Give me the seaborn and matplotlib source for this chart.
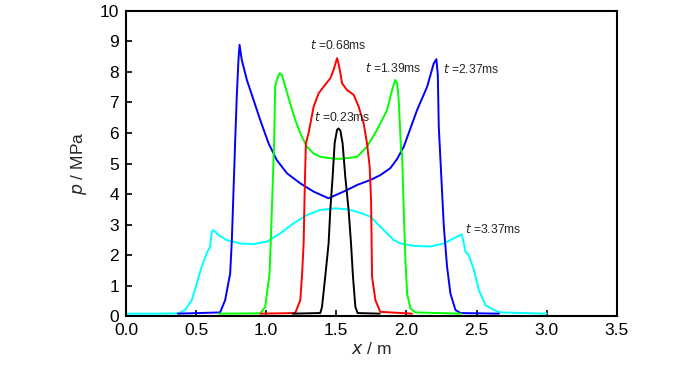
import matplotlib
matplotlib.use("Agg")
import matplotlib.pyplot as plt
import seaborn as sns
import pandas as pd
import numpy as np

# ---- data ----
cyan_x = [0.0, 0.243, 0.374, 0.421, 0.469, 0.505, 0.540, 0.576, 0.600, 0.612, 0.624, 0.659, 0.719, 0.814,
          0.910, 1.005, 1.100, 1.195, 1.290, 1.386, 1.493, 1.576, 1.648, 1.743, 1.838, 1.910, 1.960, 2.052,
          2.171, 2.267, 2.338, 2.393, 2.405, 2.421, 2.445, 2.482, 2.517, 2.564, 2.624, 2.671, 3.0]
cyan_y = [0.08, 0.08, 0.09, 0.20, 0.52, 1.07, 1.62, 2.06, 2.28, 2.77, 2.82, 2.66, 2.49, 2.38,
          2.36, 2.44, 2.71, 3.04, 3.31, 3.48, 3.53, 3.50, 3.42, 3.26, 2.82, 2.49, 2.38, 2.30,
          2.28, 2.38, 2.55, 2.68, 2.49, 2.11, 2.00, 1.51, 0.85, 0.36, 0.20, 0.12, 0.08]

blue_x = [0.37, 0.671, 0.707, 0.743, 0.755, 0.767, 0.779, 0.790, 0.802, 0.810, 0.826, 0.862, 0.910, 0.957,
          1.017, 1.076, 1.148, 1.243, 1.338, 1.445, 1.576, 1.650, 1.743, 1.814, 1.886, 1.934, 1.981, 2.005,
          2.076, 2.148, 2.195, 2.214, 2.224, 2.231, 2.243, 2.255, 2.267, 2.290, 2.314, 2.350, 2.386, 2.66]
blue_y = [0.08, 0.12, 0.52, 1.40, 2.49, 4.13, 5.77, 7.19, 8.39, 8.89, 8.39, 7.74, 7.08, 6.43,
          5.66, 5.11, 4.68, 4.35, 4.08, 3.86, 4.13, 4.30, 4.46, 4.62, 4.85, 5.15, 5.55, 5.85,
          6.75, 7.52, 8.28, 8.42, 7.90, 6.20, 5.11, 4.02, 2.93, 1.62, 0.74, 0.20, 0.10, 0.08]

green_x = [0.66, 0.957, 0.993, 1.024, 1.033, 1.045, 1.057, 1.064, 1.076, 1.095, 1.112, 1.136, 1.171, 1.207,
           1.243, 1.290, 1.338, 1.386, 1.460, 1.529, 1.648, 1.719, 1.790, 1.862, 1.898, 1.921, 1.934, 1.945,
           1.962, 1.969, 1.981, 1.993, 2.005, 2.029, 2.064, 2.39]
green_y = [0.08, 0.09, 0.30, 1.40, 2.49, 4.13, 5.77, 7.52, 7.74, 7.96, 7.90, 7.52, 6.97, 6.43,
           5.99, 5.55, 5.33, 5.22, 5.17, 5.15, 5.22, 5.55, 6.10, 6.75, 7.41, 7.74, 7.63, 7.08,
           5.44, 5.33, 3.48, 1.84, 0.74, 0.25, 0.12, 0.08]

red_x = [0.96, 1.207, 1.243, 1.255, 1.267, 1.274, 1.283, 1.302, 1.338, 1.374, 1.410, 1.457, 1.481, 1.505,
         1.516, 1.529, 1.541, 1.576, 1.624, 1.660, 1.695, 1.719, 1.738, 1.748, 1.755, 1.779, 1.814, 2.04]
red_y = [0.08, 0.10, 0.52, 1.29, 2.38, 4.02, 5.66, 5.99, 6.86, 7.30, 7.52, 7.79, 8.07, 8.45,
         8.28, 7.96, 7.63, 7.41, 7.25, 6.86, 6.32, 5.66, 4.90, 3.80, 1.29, 0.52, 0.14, 0.08]

black_x = [1.19, 1.386, 1.398, 1.421, 1.445, 1.457, 1.474, 1.488, 1.505, 1.516, 1.529, 1.545, 1.564, 1.588,
           1.605, 1.619, 1.636, 1.652, 1.81]
black_y = [0.08, 0.10, 0.30, 1.29, 2.38, 3.47, 4.57, 5.66, 6.10, 6.15, 6.08, 5.66, 4.57, 3.47,
           2.38, 1.29, 0.30, 0.10, 0.08]

series_names = ["t=3.37ms", "t=2.37ms", "t=1.39ms", "t=0.68ms", "t=0.23ms"]
series_colors = ["#00ffff", "#0000ff", "#00ff00", "#ff0000", "#000000"]

label_texts = ["0.23ms", "0.68ms", "1.39ms", "2.37ms", "3.37ms"]
label_x = [1.338, 1.314, 1.707, 2.262, 2.421]
label_y = [6.51, 8.86, 8.12, 8.09, 2.84]

x_ticks = [0.0, 0.5, 1.0, 1.5, 2.0, 2.5, 3.0, 3.5]
y_ticks = list(range(0, 11))

# ---- build table ----
frames = []
for name, xs, ys in zip(series_names,
                        [cyan_x, blue_x, green_x, red_x, black_x],
                        [cyan_y, blue_y, green_y, red_y, black_y]):
    frames.append(pd.DataFrame({"x": xs, "p": ys, "series": name, "order": range(len(xs))}))
df = pd.concat(frames, ignore_index=True)

sns.set_style("ticks")
plt.rcParams["font.family"] = ["Liberation Sans", "DejaVu Sans"]

fig = plt.figure(figsize=(7.0, 3.65), dpi=100)
ax = fig.add_axes([0.18, 0.134, 0.701, 0.836])

sns.lineplot(data=df, x="x", y="p", hue="series", hue_order=series_names,
             palette=series_colors, sort=False, estimator=None, units="series",
             linewidth=1.4, legend=False, ax=ax)

for txt, lx, ly in zip(label_texts, label_x, label_y):
    ax.text(lx, ly, r"$\it{t}$ =" + txt, fontsize=8.7, va="center", ha="left",
            family=["Liberation Sans", "DejaVu Sans"])

ax.set_xlim(0, 3.5)
ax.set_ylim(0, 10)
ax.set_xticks(x_ticks)
ax.set_xticklabels([f"{v:.1f}" for v in x_ticks])
ax.set_yticks(y_ticks)
ax.tick_params(direction="in", length=4, width=1.2, labelsize=12.5, colors="black", pad=5)
for s in ax.spines.values():
    s.set_linewidth(1.5)
    s.set_color("black")
    s.set_visible(True)

ax.set_xlabel(r"$\it{x}$ / m", fontsize=12.5, labelpad=2)
ax.set_ylabel(r"$\it{p}$ / MPa", fontsize=12.5, labelpad=8)

fig.savefig("out.png", dpi=100)
